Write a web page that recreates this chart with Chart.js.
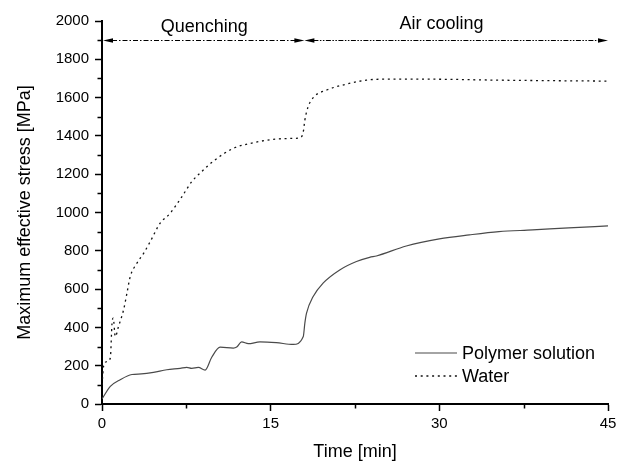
<!DOCTYPE html>
<html>
<head>
<meta charset="utf-8">
<script src="https://cdn.jsdelivr.net/npm/chart.js@4.4.1/dist/chart.umd.min.js"></script>
<style>
  html, body { margin: 0; padding: 0; background: #fff; }
</style>
</head>
<body>
<canvas id="stressChart" width="623" height="461"></canvas>
<script>
// Polymer solution (solid line)
const polymerTime   = [0, 0.74, 1.62, 2.66, 3.5, 4.58, 5.76, 6.95, 7.54, 7.98, 8.57, 9.17, 9.76, 10.5, 11.68, 11.98, 12.42, 13.01, 14.05, 15.5, 17.0, 17.9, 18.04, 18.19, 18.78, 19.66, 21.14, 22.63, 23.8, 24.4, 27.06, 30.0, 32.67, 35.3, 38.3, 41.5, 45];
const polymerStress = [26, 92, 127, 154, 157, 165, 179, 186, 191, 186, 191, 177, 244, 297, 292, 297, 324, 315, 324, 320, 311, 352, 422, 474, 561, 631, 700, 744, 766, 773, 825, 862, 883, 900, 909, 920, 930];

// Water (dotted line)
const waterTime   = [0, 0.15, 0.45, 0.74, 0.89, 1.0, 1.18, 1.47, 1.92, 2.22, 2.51, 3.1, 3.7, 4.29, 5.17, 6.06, 7.1, 7.98, 8.8, 9.9, 11.68, 13.45, 15.23, 17.0, 17.6, 17.9, 18.04, 18.33, 18.85, 19.96, 21.7, 23.5, 24.7, 29.4, 35.3, 45];
const waterStress = [100, 200, 222, 240, 420, 448, 352, 405, 492, 579, 665, 735, 787, 848, 944, 996, 1082, 1161, 1210, 1268, 1335, 1364, 1382, 1387, 1390, 1421, 1482, 1552, 1604, 1639, 1670, 1691, 1696, 1696, 1691, 1686];

// axes
const xTicks = [0, 15, 30, 45];
const xMinorTicks = [7.5, 22.5, 37.5];
const yTicks = [0, 200, 400, 600, 800, 1000, 1200, 1400, 1600, 1800, 2000];
const yMinorTicks = [100, 300, 500, 700, 900, 1100, 1300, 1500, 1700, 1900];

// process phases drawn as arrows at the top
const phaseNames = ['Quenching', 'Air cooling'];
const phaseBounds = [0, 18, 45];
const phaseLabelAt = [9.1, 30.2];
const phaseArrowLevel = 1900;

const FONT = "'Liberation Sans', Arial, sans-serif";

function toPoints(xs, ys) {
  return xs.map((x, i) => ({ x: x, y: ys[i] }));
}

function arrowHead(ctx, tipX, y, dir) {
  // dir = -1 points left, 1 points right
  ctx.beginPath();
  ctx.moveTo(tipX, y);
  ctx.lineTo(tipX - dir * 10, y - 2.2);
  ctx.lineTo(tipX - dir * 10, y + 2.2);
  ctx.closePath();
  ctx.fill();
}

const extrasPlugin = {
  id: 'extras',
  afterDatasetsDraw(chart) {
    const ctx = chart.ctx;
    const xs = chart.scales.x;
    const ys = chart.scales.y;
    const area = chart.chartArea;

    ctx.save();
    // minor ticks
    ctx.strokeStyle = '#000';
    ctx.lineWidth = 1.5;
    ctx.beginPath();
    yMinorTicks.forEach(v => {
      const py = Math.round(ys.getPixelForValue(v)) + 0.5;
      ctx.moveTo(area.left - 4.5, py);
      ctx.lineTo(area.left, py);
    });
    xMinorTicks.forEach(v => {
      const px = Math.round(xs.getPixelForValue(v)) + 0.5;
      ctx.moveTo(px, area.bottom);
      ctx.lineTo(px, area.bottom + 4.5);
    });
    ctx.stroke();

    // phase arrows
    const py = Math.round(ys.getPixelForValue(phaseArrowLevel)) + 0.5;
    ctx.fillStyle = '#000';
    for (let i = 0; i < phaseNames.length; i++) {
      const x0 = xs.getPixelForValue(phaseBounds[i]) + (i === 0 ? 1 : 0);
      const x1 = xs.getPixelForValue(phaseBounds[i + 1]);
      ctx.lineWidth = 1;
      ctx.setLineDash(i === 0 ? [5, 2, 1.5, 2] : [5, 1.5, 1.5, 1.5, 1.5, 1.5]);
      ctx.beginPath();
      ctx.moveTo(x0 + 9, py);
      ctx.lineTo(x1 - 9, py);
      ctx.stroke();
      ctx.setLineDash([]);
      arrowHead(ctx, x0, py, -1);
      arrowHead(ctx, x1, py, 1);

      ctx.font = '18px ' + FONT;
      ctx.textAlign = 'center';
      ctx.textBaseline = 'middle';
      ctx.fillText(phaseNames[i], xs.getPixelForValue(phaseLabelAt[i]), i === 0 ? 27 : 24);
    }

    // legend
    const lx0 = area.right - 193, lx1 = area.right - 151, tx = area.right - 146;
    const rows = [area.bottom - 51, area.bottom - 28];
    chart.data.datasets.forEach((ds, i) => {
      ctx.strokeStyle = ds.borderColor;
      ctx.lineWidth = ds.borderWidth;
      ctx.setLineDash(ds.borderDash || []);
      ctx.beginPath();
      ctx.moveTo(lx0, rows[i]);
      ctx.lineTo(lx1, rows[i]);
      ctx.stroke();
      ctx.setLineDash([]);
      ctx.fillStyle = '#000';
      ctx.font = '18px ' + FONT;
      ctx.textAlign = 'left';
      ctx.textBaseline = 'middle';
      ctx.fillText(ds.label, tx, rows[i] + 1);
    });
    ctx.restore();
  }
};

const ctx = document.getElementById('stressChart').getContext('2d');
new Chart(ctx, {
  type: 'line',
  data: {
    datasets: [
      {
        label: 'Polymer solution',
        data: toPoints(polymerTime, polymerStress),
        borderColor: '#4a4a4a',
        borderWidth: 1.2,
        pointRadius: 0,
        tension: 0,
        cubicInterpolationMode: 'monotone'
      },
      {
        label: 'Water',
        data: toPoints(waterTime, waterStress),
        borderColor: '#111',
        borderWidth: 1.3,
        borderDash: [2, 3.7],
        pointRadius: 0,
        tension: 0,
        cubicInterpolationMode: 'monotone'
      }
    ]
  },
  options: {
    responsive: false,
    animation: false,
    devicePixelRatio: 1,
    layout: { padding: { top: 21, right: 15, bottom: 0, left: 0 } },
    plugins: {
      legend: { display: false },
      tooltip: { enabled: false }
    },
    scales: {
      x: {
        type: 'linear',
        min: 0,
        max: 45,
        afterBuildTicks: s => { s.ticks = xTicks.map(v => ({ value: v })); },
        afterFit: s => { s.height = 57; },
        grid: { drawOnChartArea: false, drawTicks: true, tickLength: 7, tickColor: '#000', tickWidth: 1.5 },
        border: { display: true, color: '#000', width: 2 },
        ticks: { color: '#000', padding: 4, maxRotation: 0, callback: v => String(v), font: { size: 15, family: FONT } },
        title: { display: true, text: 'Time [min]', color: '#000', padding: { top: 0, bottom: 0 }, font: { size: 18, family: FONT, lineHeight: 1 } }
      },
      y: {
        type: 'linear',
        min: 0,
        max: 2000,
        afterBuildTicks: s => { s.ticks = yTicks.map(v => ({ value: v })); },
        afterFit: s => { s.width = 102; },
        grid: { drawOnChartArea: false, drawTicks: true, tickLength: 7, tickColor: '#000', tickWidth: 1.5 },
        border: { display: true, color: '#000', width: 2 },
        ticks: { color: '#000', padding: 6, callback: v => String(v), font: { size: 15, family: FONT } },
        title: { display: true, text: 'Maximum effective stress [MPa]', color: '#000', padding: { top: 16, bottom: 0 }, font: { size: 18, family: FONT, lineHeight: 1 } }
      }
    }
  },
  plugins: [extrasPlugin]
});
</script>
</body>
</html>
